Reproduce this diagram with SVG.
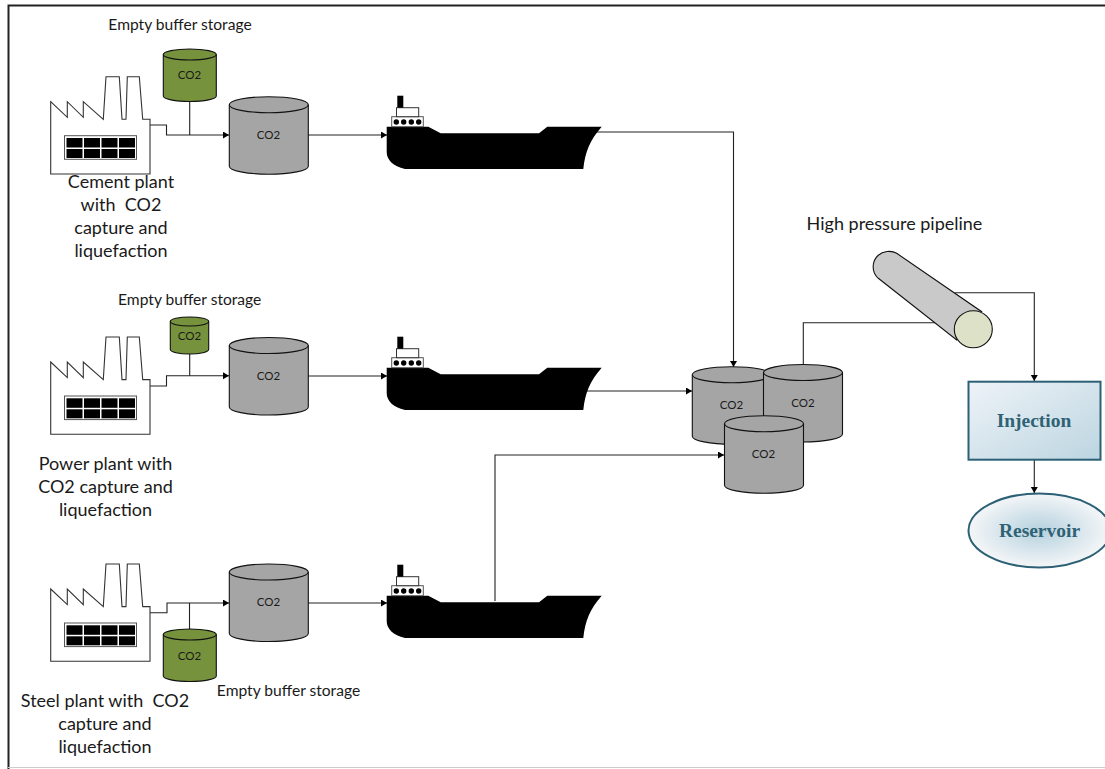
<svg xmlns="http://www.w3.org/2000/svg" width="1105" height="769" viewBox="0 0 1105 769">
<style>
.t{font-family:"Lato","Liberation Sans",sans-serif;fill:#1a1a1a;text-anchor:middle}
.l{font-size:18px}.s{font-size:15.6px}.c{font-size:11.5px}
.b{font-family:"Liberation Serif",serif;font-weight:bold;font-size:19.5px;fill:#2e6274;text-anchor:middle}
.w{fill:none;stroke:#222;stroke-width:1.1}
.grey{fill:#a5a5a5}.green{fill:#76923c}
</style>
<defs>
<marker id="a" markerWidth="8" markerHeight="8" refX="6" refY="3.5" orient="auto" markerUnits="userSpaceOnUse"><path d="M0,0L6,3.5L0,7z" fill="#000"/></marker>
<linearGradient id="inj" x1="0" y1="0" x2="1" y2="1"><stop offset="0" stop-color="#eef3f8"/><stop offset="1" stop-color="#bcd5e0"/></linearGradient>
<radialGradient id="res"><stop offset="0" stop-color="#b5d1de"/><stop offset="1" stop-color="#f4f6f8"/></radialGradient>
<g id="factory">
<path d="M50.7,101.7L67.3,117.3V101.7L83.3,117.3V101.7L103.3,119.3L106,76.7H119.3L122,119.3H126L127.3,76.7H139.3L142.7,119.3H150V174H50.7Z" fill="#fff" stroke="#333" stroke-width="1.1"/>
<rect x="64.5" y="135.7" width="72" height="23.6" fill="#fff" stroke="#555"/>
<g fill="#000"><rect x="66.5" y="138" width="16" height="9.5"/><rect x="84" y="138" width="16" height="9.5"/><rect x="101.5" y="138" width="16" height="9.5"/><rect x="119" y="138" width="16" height="9.5"/><rect x="66.5" y="149" width="16" height="9"/><rect x="84" y="149" width="16" height="9"/><rect x="101.5" y="149" width="16" height="9"/><rect x="119" y="149" width="16" height="9"/></g>
</g>
<g id="ship">
<path d="M386.7,126.7H428.3L440.7,133.3H539L547.3,126.7H601.7C590,140 585,152 583.3,169H405C393,166 386.7,160 386.7,152Z" fill="#000"/>
<rect x="391.7" y="116.7" width="31.6" height="10" fill="#fff" stroke="#555"/>
<g fill="#000"><circle cx="396.3" cy="122" r="2.7"/><circle cx="403.7" cy="122" r="2.7"/><circle cx="411.3" cy="122" r="2.7"/><circle cx="418.7" cy="122" r="2.7"/></g>
<rect x="396.5" y="107.7" width="22.2" height="9" fill="#fff" stroke="#333"/>
<rect x="397.3" y="95.7" width="6" height="12" fill="#000"/>
</g>
<g id="tank"><path d="M0,8A39.5,8 0 0 1 79,8V69.5A39.5,8 0 0 1 0,69.5Z" class="grey" stroke="#111" stroke-width="1.1"/><path d="M0,8A39.5,8 0 0 0 79,8" fill="none" stroke="#111" stroke-width="1.1"/></g>
<g id="gtank"><path d="M0,5.5A26.5,5.5 0 0 1 53,5.5V47A26.5,5.5 0 0 1 0,47Z" class="green" stroke="#111" stroke-width="1.1"/><path d="M0,5.5A26.5,5.5 0 0 0 53,5.5" fill="none" stroke="#111" stroke-width="1.1"/></g>
</defs>
<rect width="1105" height="769" fill="#fff"/>
<g id="frame" fill="none"><path d="M8.5,769V5.500H1105" stroke="#222" stroke-width="2"/><path d="M8,767.5H1105" stroke="#ccc" stroke-width="1"/></g>

<g id="connectors">
<path class="w" d="M150,125H166.5V135H229" marker-end="url(#a)"/>
<path class="w" d="M189.7,101V135"/>
<path class="w" d="M308,135H387" marker-end="url(#a)"/>
<path class="w" d="M596,132H733.5V367" marker-end="url(#a)"/>
<path class="w" d="M150,386H166.5V375.7H229" marker-end="url(#a)"/>
<path class="w" d="M189.7,354V375.7"/>
<path class="w" d="M308,376H387" marker-end="url(#a)"/>
<path class="w" d="M586,391H692" marker-end="url(#a)"/>
<path class="w" d="M150,612.7H167V603H229" marker-end="url(#a)"/>
<path class="w" d="M189.5,603V629"/>
<path class="w" d="M308,603H387" marker-end="url(#a)"/>
<path class="w" d="M495,601V455H724" marker-end="url(#a)"/>
<path class="w" d="M803.3,364V322.7H935"/>
<path class="w" d="M955,292.7H1034.3V381" marker-end="url(#a)"/>
<path class="w" d="M1034.3,460V493" marker-end="url(#a)"/>
</g>

<g id="cement-plant"><use href="#factory"/><text class="t l" x="121" y="188">Cement plant</text><text class="t l" x="121" y="211">with&#160; CO2</text><text class="t l" x="121" y="234">capture and</text><text class="t l" x="121" y="257">liquefaction</text></g>
<g id="buffer-1"><use href="#gtank" x="163.3" y="49"/><text class="t c" x="189.5" y="79">CO2</text><text class="t s" x="180" y="30">Empty buffer storage</text></g>
<g id="tank-1"><use href="#tank" x="229.3" y="96.7"/><text class="t c" x="268.5" y="139">CO2</text></g>
<g id="ship-1"><use href="#ship"/></g>

<g id="power-plant"><use href="#factory" y="260.3"/><text class="t l" x="105.5" y="470">Power plant with</text><text class="t l" x="105.5" y="493">CO2 capture and</text><text class="t l" x="105.5" y="516">liquefaction</text></g>
<g id="buffer-2"><path d="M170.3,321.5A19.2,4.500 0 0 1 208.7,321.5V349.5A19.2,4.500 0 0 1 170.3,349.5Z" class="green" stroke="#111" stroke-width="1.1"/><path d="M170.3,321.5A19.2,4.500 0 0 0 208.7,321.5" fill="none" stroke="#111" stroke-width="1.1"/><text class="t c" x="189.5" y="340">CO2</text><text class="t s" x="189.700" y="305">Empty buffer storage</text></g>
<g id="tank-2"><use href="#tank" x="229.3" y="337.5"/><text class="t c" x="268.5" y="380">CO2</text></g>
<g id="ship-2"><use href="#ship" y="241"/></g>

<g id="steel-plant"><use href="#factory" y="487.3"/><text class="t l" x="105" y="707">Steel plant with&#160; CO2</text><text class="t l" x="105" y="730">capture and</text><text class="t l" x="105" y="753">liquefaction</text></g>
<g id="buffer-3"><use href="#gtank" x="163.3" y="629"/><text class="t c" x="189.5" y="660">CO2</text><text class="t s" x="288.5" y="696">Empty buffer storage</text></g>
<g id="tank-3"><use href="#tank" x="229.3" y="564"/><text class="t c" x="268.5" y="606">CO2</text></g>
<g id="ship-3"><use href="#ship" y="469"/></g>

<g id="hub-a"><use href="#tank" x="692.3" y="366.7"/><text class="t c" x="731.5" y="409">CO2</text></g>
<g id="hub-b"><use href="#tank" x="763.5" y="364.5"/><text class="t c" x="803" y="407">CO2</text></g>
<g id="hub-c"><use href="#tank" x="724.5" y="415.7"/><text class="t c" x="763.5" y="458">CO2</text></g>

<g id="pipeline">
<path d="M896.7,253.3L981.7,311.7L956.7,340L878.3,278.3C871,272 872,261 878,255.5C883,251 891,250 896.7,253.3Z" fill="#c9c9c9" stroke="#111" stroke-width="1.1"/>
<ellipse cx="973.3" cy="329.3" rx="19" ry="18.5" fill="#dde1c8" stroke="#111" stroke-width="1.1"/>
<text class="t l" x="894.5" y="230">High pressure pipeline</text>
</g>
<g id="injection"><rect x="968.5" y="381.7" width="132" height="78" fill="url(#inj)" stroke="#2b6075" stroke-width="2"/><text class="b" x="1034" y="427">Injection</text></g>
<g id="reservoir"><ellipse cx="1039.5" cy="530.5" rx="71" ry="37" fill="url(#res)" stroke="#2b6075" stroke-width="2"/><text class="b" x="1039.5" y="537">Reservoir</text></g>
</svg>
